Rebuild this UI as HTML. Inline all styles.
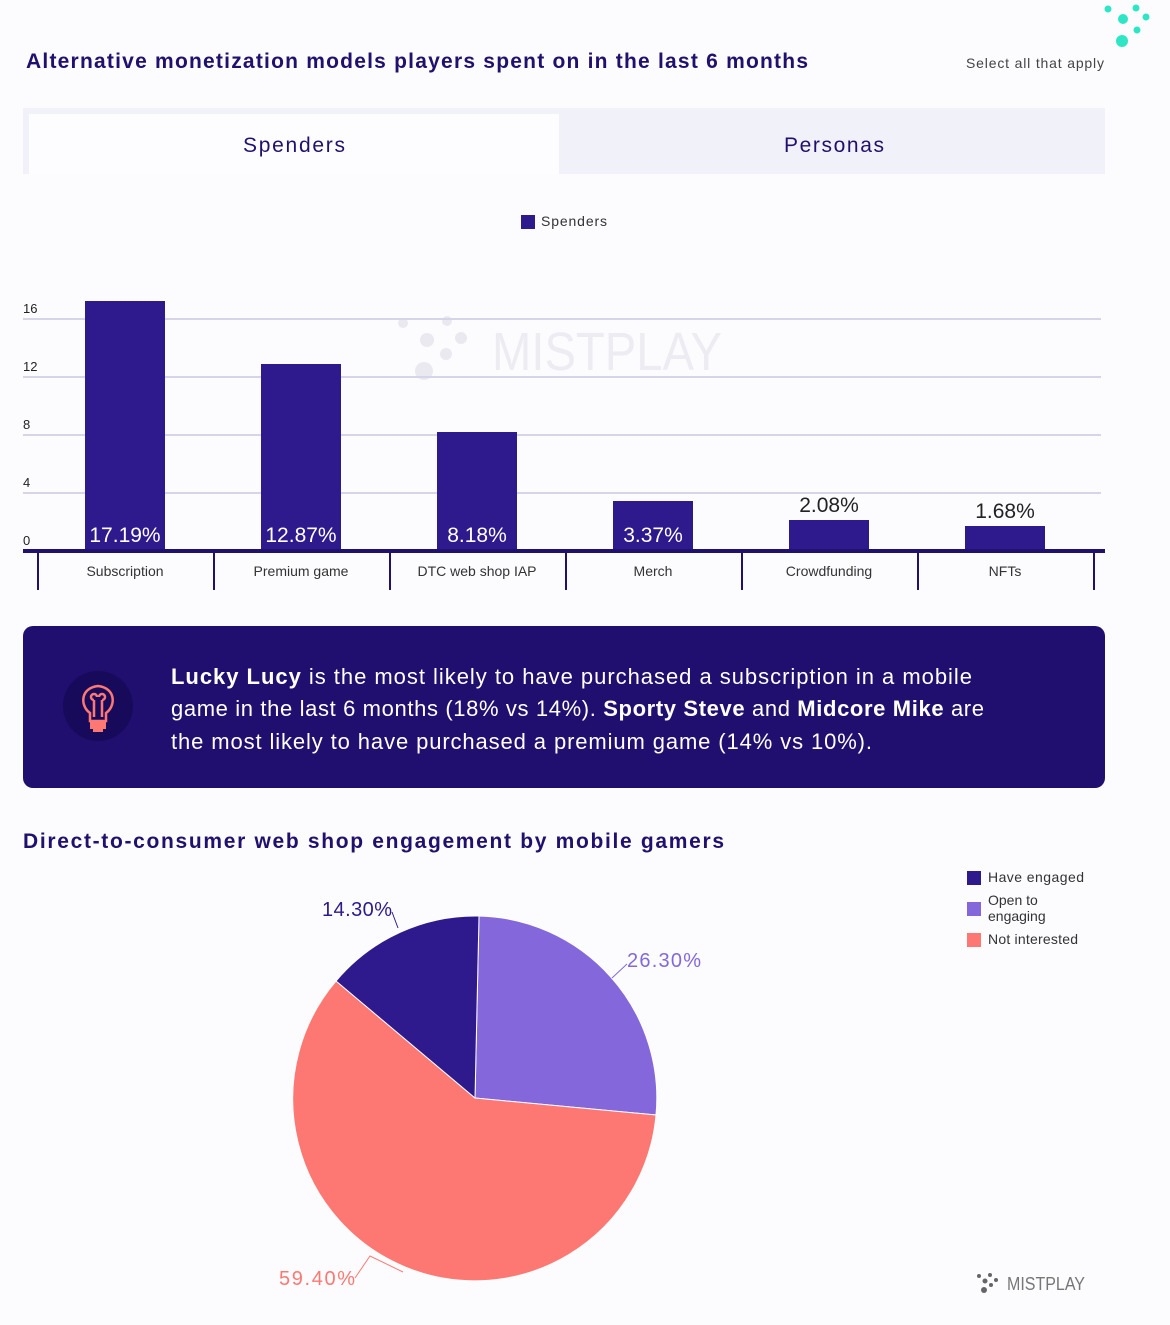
<!DOCTYPE html>
<html><head><meta charset="utf-8"><style>
html,body{margin:0;padding:0;background:#fcfcff;}
body{width:1170px;height:1320px;overflow:hidden;font-family:"Liberation Sans",sans-serif;}
</style></head><body>
<svg width="1170" height="1320" xmlns="http://www.w3.org/2000/svg" font-family="Liberation Sans, sans-serif">
<rect width="1170" height="1320" fill="#fcfcff"/>
<g fill="#2ee6c6"><circle cx="1108" cy="9" r="3.5"/><circle cx="1136" cy="8" r="3.5"/><circle cx="1123" cy="19" r="5"/><circle cx="1146" cy="17" r="3.5"/><circle cx="1137" cy="30" r="3.5"/><circle cx="1122" cy="41" r="6"/></g>
<text x="26" y="68" font-size="21" font-weight="bold" fill="#21106e" textLength="782" lengthAdjust="spacing">Alternative monetization models players spent on in the last 6 months</text>
<text x="966" y="68" font-size="14" fill="#444" textLength="138" lengthAdjust="spacing">Select all that apply</text>
<rect x="23" y="108" width="1082" height="66" fill="#f1f1f9"/>
<rect x="29" y="114" width="530" height="60" fill="#fdfdff"/>
<text x="294" y="152" font-size="21" fill="#21106e" text-anchor="middle" textLength="102" lengthAdjust="spacing">Spenders</text>
<text x="834" y="152" font-size="21" fill="#21106e" text-anchor="middle" textLength="100" lengthAdjust="spacing">Personas</text>
<rect x="521" y="215" width="14" height="14" fill="#2e1a8c"/>
<text x="541" y="226" font-size="14" fill="#333" textLength="66" lengthAdjust="spacing">Spenders</text>
<g fill="#e9e9ef"><circle cx="403" cy="323" r="5"/><circle cx="447" cy="321" r="5"/><circle cx="427" cy="340" r="7"/><circle cx="461" cy="338" r="6"/><circle cx="446" cy="354" r="6"/><circle cx="424" cy="371" r="9"/></g>
<text x="492" y="370" font-size="54" fill="#ececf2" textLength="230" lengthAdjust="spacingAndGlyphs">MISTPLAY</text>
<g stroke="#d6d4e8" stroke-width="2"><line x1="23" y1="319" x2="1101" y2="319"/><line x1="23" y1="377" x2="1101" y2="377"/><line x1="23" y1="435" x2="1101" y2="435"/><line x1="23" y1="493" x2="1101" y2="493"/></g>
<g font-size="13" fill="#222"><text x="23" y="313">16</text><text x="23" y="371">12</text><text x="23" y="429">8</text><text x="23" y="487">4</text><text x="23" y="545">0</text></g>
<g fill="#2e1a8c">
<rect x="85" y="301" width="80" height="249"/>
<rect x="261" y="364" width="80" height="186"/>
<rect x="437" y="432" width="80" height="118"/>
<rect x="613" y="501" width="80" height="49"/>
<rect x="789" y="520" width="80" height="30"/>
<rect x="965" y="526" width="80" height="24"/>
</g>
<g font-size="21" fill="#fff" text-anchor="middle">
<text x="125" y="542">17.19%</text><text x="301" y="542">12.87%</text><text x="477" y="542">8.18%</text><text x="653" y="542">3.37%</text>
</g>
<g font-size="21" fill="#222" text-anchor="middle"><text x="829" y="512">2.08%</text><text x="1005" y="518">1.68%</text></g>
<line x1="23" y1="551" x2="1105" y2="551" stroke="#21106e" stroke-width="4"/>
<g stroke="#21106e" stroke-width="2"><line x1="38" y1="551" x2="38" y2="590"/><line x1="214" y1="551" x2="214" y2="590"/><line x1="390" y1="551" x2="390" y2="590"/><line x1="566" y1="551" x2="566" y2="590"/><line x1="742" y1="551" x2="742" y2="590"/><line x1="918" y1="551" x2="918" y2="590"/><line x1="1094" y1="551" x2="1094" y2="590"/></g>
<g font-size="14" fill="#333" text-anchor="middle">
<text x="125" y="576">Subscription</text><text x="301" y="576">Premium game</text><text x="477" y="576">DTC web shop IAP</text><text x="653" y="576">Merch</text><text x="829" y="576">Crowdfunding</text><text x="1005" y="576">NFTs</text>
</g>
<rect x="23" y="626" width="1082" height="162" rx="10" fill="#200f6e"/>
<circle cx="98" cy="706" r="35" fill="#180a5a"/>
<g stroke="#fd7872" stroke-width="2.5" fill="none"><path d="M90,721 L90,713 C80,706 80,688 98,686 C116,688 116,706 106,713 L106,721 Z"/><path d="M94,717 V700 M102,717 V700 M94,700 a3,3 0 1,1 3,-3 M102,700 a3,3 0 1,0 -3,-3"/></g>
<rect x="90" y="720" width="16" height="9" fill="#fd7872"/><rect x="93" y="728" width="10" height="4" fill="#fd7872"/>
<g font-size="22" fill="#fff">
<text x="171" y="684" textLength="801" lengthAdjust="spacing"><tspan font-weight="bold">Lucky Lucy</tspan> is the most likely to have purchased a subscription in a mobile</text>
<text x="171" y="716" textLength="813" lengthAdjust="spacing">game in the last 6 months (18% vs 14%). <tspan font-weight="bold">Sporty Steve</tspan> and <tspan font-weight="bold">Midcore Mike</tspan> are</text>
<text x="171" y="749" textLength="701" lengthAdjust="spacing">the most likely to have purchased a premium game (14% vs 10%).</text>
</g>
<text x="23" y="848" font-size="21" font-weight="bold" fill="#21106e" textLength="701" lengthAdjust="spacing">Direct-to-consumer web shop engagement by mobile gamers</text>
<rect x="967" y="871" width="14" height="14" fill="#2e1a8c"/><text x="988" y="882" font-size="14" fill="#333" textLength="96" lengthAdjust="spacing">Have engaged</text>
<rect x="967" y="902" width="14" height="14" fill="#8468db"/><text x="988" y="905" font-size="14" fill="#333">Open to</text><text x="988" y="921" font-size="14" fill="#333">engaging</text>
<rect x="967" y="933" width="14" height="14" fill="#fd7872"/><text x="988" y="944" font-size="14" fill="#333" textLength="90" lengthAdjust="spacing">Not interested</text>
<path d="M475,1098 L479,916 A182,182 0 0 1 656,1115 Z" fill="#8468db" stroke="#fff" stroke-width="1"/>
<path d="M475,1098 L656,1115 A182,182 0 1 1 336,981 Z" fill="#fd7872" stroke="#fff" stroke-width="1"/>
<path d="M475,1098 L336,981 A182,182 0 0 1 479,916 Z" fill="#2e1a8c" stroke="#fff" stroke-width="1"/>
<polyline points="392,912 398,928" stroke="#2e1a8c" fill="none"/>
<polyline points="627,964 612,978" stroke="#8468db" fill="none"/>
<polyline points="355,1278 370,1256 403,1272" stroke="#fd7872" fill="none"/>
<text x="322" y="916" font-size="20" fill="#2e1a8c" textLength="70" lengthAdjust="spacing">14.30%</text>
<text x="627" y="967" font-size="20" fill="#8468db" textLength="74" lengthAdjust="spacing">26.30%</text>
<text x="279" y="1285" font-size="20" fill="#fd7872" textLength="76" lengthAdjust="spacing">59.40%</text>
<g fill="#666"><circle cx="979" cy="1276" r="2"/><circle cx="990" cy="1275" r="2"/><circle cx="985" cy="1281" r="2.5"/><circle cx="996" cy="1280" r="2"/><circle cx="991" cy="1285" r="2"/><circle cx="984" cy="1290" r="3"/></g>
<text x="1007" y="1290" font-size="18" fill="#777" textLength="78" lengthAdjust="spacingAndGlyphs">MISTPLAY</text>
</svg>
</body></html>
